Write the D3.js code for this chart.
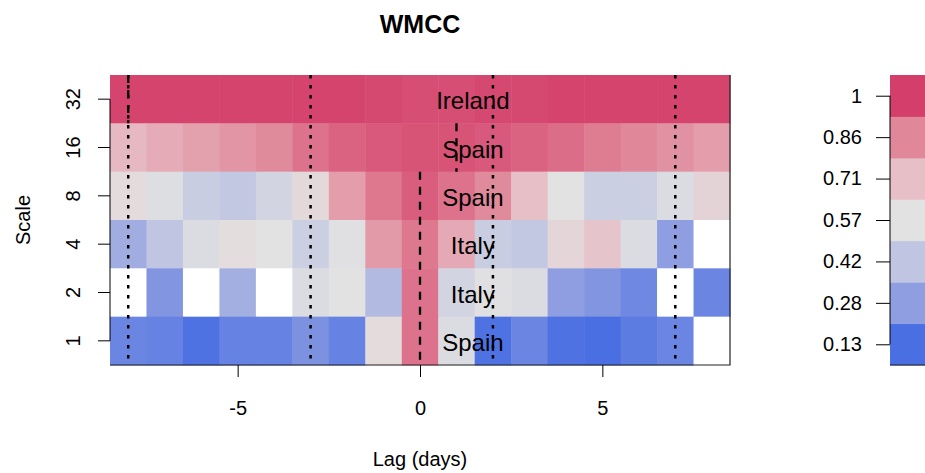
<!DOCTYPE html>
<html>
<head>
<meta charset="utf-8">
<script src="https://cdn.jsdelivr.net/npm/d3@7"></script>
<style>
  body { margin: 0; background: #fff; }
  svg { display: block; font-family: "Liberation Sans", Arial, sans-serif; }
</style>
</head>
<body>
<svg id="chart" width="925" height="473"></svg>
<script>
// Data: lags, scales and correlation values (null = blank cell)
const lags = d3.range(-8, 9);
const scales = [32, 16, 8, 4, 2, 1];
const countries = ["Ireland", "Spain", "Spain", "Italy", "Italy", "Spain"];
const maxLag = [-8, 1, 0, 0, 0, 0];
const refLags = [-8, -3, 2, 7];

const row32 = [0.99, 0.99, 0.99, 0.99, 0.99, 0.99, 0.99, 0.98, 0.97, 0.97, 0.98, 0.98, 0.99, 0.99, 0.99, 0.99, 0.99];
const row16 = [0.73, 0.76, 0.79, 0.82, 0.85, 0.90, 0.93, 0.95, 0.96, 0.96, 0.95, 0.93, 0.91, 0.88, 0.86, 0.83, 0.80];
const row8  = [0.60, 0.55, 0.46, 0.43, 0.50, 0.61, 0.80, 0.89, 0.94, 0.90, 0.85, 0.71, 0.57, 0.47, 0.47, 0.54, 0.63];
const row4  = [0.33, 0.42, 0.54, 0.59, 0.57, 0.47, 0.56, 0.81, 0.89, 0.77, 0.46, 0.43, 0.62, 0.69, 0.54, 0.28, null];
const row2  = [null, 0.25, null, 0.34, null, 0.54, 0.57, 0.38, 0.90, 0.50, 0.56, 0.54, 0.28, 0.25, 0.21, null, 0.20];
const row1  = [0.20, 0.19, 0.14, 0.19, 0.19, 0.24, 0.19, 0.60, 0.90, 0.54, 0.14, 0.20, 0.14, 0.13, 0.17, 0.20, null];
const values = [row32, row16, row8, row4, row2, row1];

const legendTicks = [0.13, 0.28, 0.42, 0.57, 0.71, 0.86, 1];
const legendLabels = ["0.13", "0.28", "0.42", "0.57", "0.71", "0.86", "1"];
const palette = ["#4A6FE3", "#8F9EE0", "#C0C5E2", "#E2E2E2", "#E7BFC7", "#E08799", "#D33F6A"];

// Layout
const plot = { left: 110, right: 730, top: 75, bottom: 365 };
const svg = d3.select("#chart");

const x = d3.scaleLinear().domain([-8.5, 8.5]).range([plot.left, plot.right]);
const y = d3.scaleBand().domain(scales).range([plot.top, plot.bottom]);
const color = d3.scaleLinear().domain(legendTicks).range(palette).clamp(true);

// Cells
const cells = [];
scales.forEach((s, i) => lags.forEach((l, j) => cells.push({ scale: s, lag: l, v: values[i][j] })));

svg.append("g").selectAll("rect")
    .data(cells)
    .enter()
    .append("rect")
    .attr("x", d => x(d.lag - 0.5))
    .attr("y", d => y(d.scale))
    .attr("width", x(0.5) - x(-0.5) + 0.5)
    .attr("height", y.bandwidth() + 0.5)
    .attr("fill", d => d.v == null ? "#fff" : color(d.v));

// Dotted reference lines
svg.append("g").selectAll("line")
    .data(refLags)
    .enter()
    .append("line")
    .attr("x1", d => x(d)).attr("x2", d => x(d))
    .attr("y1", plot.top).attr("y2", plot.bottom)
    .attr("stroke", "#000")
    .attr("stroke-width", 2.5)
    .attr("stroke-dasharray", "3.5,6.5");

// Dashed max-lag lines (contiguous rows merged)
const runs = [];
scales.forEach((s, i) => {
    const last = runs[runs.length - 1];
    if (last && last.lag === maxLag[i]) last.end = s;
    else runs.push({ lag: maxLag[i], start: s, end: s });
});
svg.append("g").selectAll("line")
    .data(runs)
    .enter()
    .append("line")
    .attr("x1", d => x(d.lag)).attr("x2", d => x(d.lag))
    .attr("y1", d => y(d.start)).attr("y2", d => y(d.end) + y.bandwidth())
    .attr("stroke", "#000")
    .attr("stroke-width", 2.3)
    .attr("stroke-dasharray", "8,7");

// Country labels
svg.append("g").selectAll("text")
    .data(scales)
    .enter()
    .append("text")
    .attr("x", x(1.45))
    .attr("y", d => y(d) + y.bandwidth() / 2 + 10)
    .attr("text-anchor", "middle")
    .attr("font-size", "24px")
    .attr("fill", "#000")
    .text((d, i) => countries[i]);

// Frame (bottom and right)
svg.append("path")
    .attr("d", `M${plot.left},${plot.bottom}H${plot.right}V${plot.top}`)
    .attr("fill", "none")
    .attr("stroke", "#222")
    .attr("stroke-width", 1.2);

// X axis
const xAxis = svg.append("g")
    .attr("transform", `translate(0,${plot.bottom})`)
    .call(d3.axisBottom(x).tickValues([-5, 0, 5]).tickFormat(d => String(d)).tickSize(12).tickPadding(24));
xAxis.select(".domain").remove();
xAxis.selectAll("text").attr("font-size", "20px").attr("fill", "#000").attr("font-family", null);
xAxis.selectAll("line").attr("stroke", "#000");

// Y axis
const yAxis = svg.append("g")
    .attr("transform", `translate(${plot.left},0)`)
    .call(d3.axisLeft(y).tickSize(12).tickPadding(0));
yAxis.select(".domain")
    .attr("d", `M0,${y(32) + y.bandwidth() / 2}V${y(1) + y.bandwidth() / 2}`)
    .attr("stroke", "#000");
yAxis.selectAll("line").attr("stroke", "#000");
yAxis.selectAll("text")
    .attr("font-size", "20px").attr("fill", "#000").attr("font-family", null)
    .attr("text-anchor", "middle")
    .attr("dy", null)
    .attr("transform", "translate(-37,0) rotate(-90)")
    .attr("x", 0).attr("y", 7);

// Axis titles
svg.append("text")
    .attr("x", (plot.left + plot.right) / 2)
    .attr("y", 466)
    .attr("text-anchor", "middle")
    .attr("font-size", "20px")
    .text("Lag (days)");

svg.append("text")
    .attr("transform", `translate(30,${(plot.top + plot.bottom) / 2}) rotate(-90)`)
    .attr("text-anchor", "middle")
    .attr("font-size", "20px")
    .text("Scale");

// Title
svg.append("text")
    .attr("x", 420)
    .attr("y", 33)
    .attr("text-anchor", "middle")
    .attr("font-size", "25px")
    .attr("font-weight", "bold")
    .text("WMCC");

// Colour legend
const legendX = 890;
const ly = d3.scaleBand().domain(d3.range(palette.length).reverse()).range([plot.top, plot.bottom]);
svg.append("g").selectAll("rect")
    .data(palette)
    .enter()
    .append("rect")
    .attr("x", legendX)
    .attr("y", (d, i) => ly(i))
    .attr("width", 40)
    .attr("height", ly.bandwidth() + 0.5)
    .attr("fill", d => d);

svg.append("line")
    .attr("x1", legendX).attr("x2", 930)
    .attr("y1", plot.bottom).attr("y2", plot.bottom)
    .attr("stroke", "#222");

const lAxis = svg.append("g")
    .attr("transform", `translate(${legendX},0)`)
    .call(d3.axisLeft(d3.scaleOrdinal().domain(legendLabels).range(legendLabels.map((d, i) => ly(i) + ly.bandwidth() / 2)))
        .tickSize(14).tickPadding(14));
lAxis.select(".domain")
    .attr("d", `M0,${ly(6) + ly.bandwidth() / 2}V${ly(0) + ly.bandwidth() / 2}`)
    .attr("stroke", "#000");
lAxis.selectAll("line").attr("stroke", "#000");
lAxis.selectAll("text").attr("font-size", "20px").attr("fill", "#000").attr("font-family", null);
</script>
</body>
</html>
